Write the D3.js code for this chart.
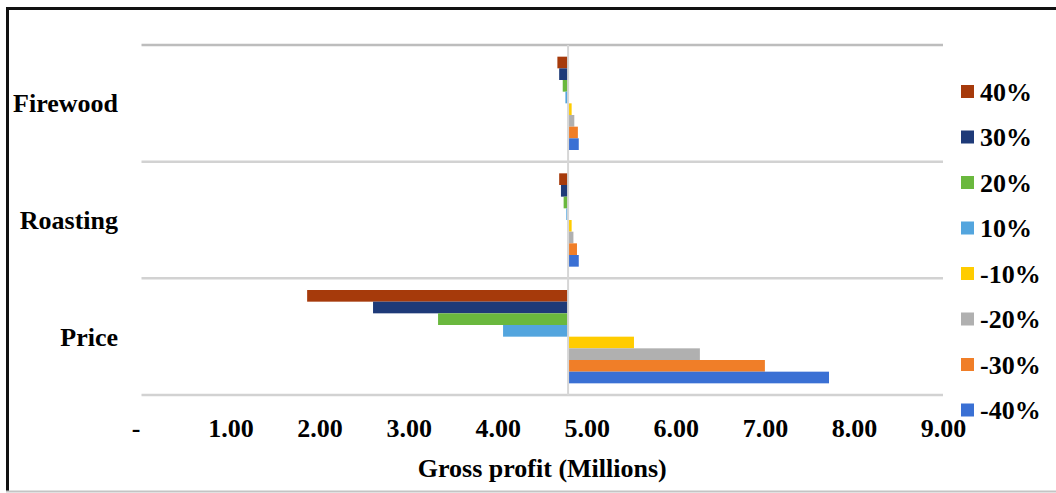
<!DOCTYPE html>
<html>
<head>
<meta charset="utf-8">
<script src="https://cdn.jsdelivr.net/npm/d3@7"></script>
<style>
  html, body { margin: 0; padding: 0; background: #fff; }
  svg text { font-family: "Liberation Serif", "Times New Roman", serif; font-weight: bold; fill: #000; }
</style>
</head>
<body>
<svg id="chart" width="1056" height="493"></svg>
<script>
// Sensitivity of gross profit (millions) to changes in each input
const categories = ["Firewood", "Roasting", "Price"];
const seriesNames = ["40%", "30%", "20%", "10%", "-10%", "-20%", "-30%", "-40%"];
const seriesColors = ["#a63a0b", "#1e3a78", "#6ab83e", "#53a5de", "#ffcc00", "#b0b0b0", "#f07e28", "#3a70d4"];
const baseProfit = 4.79;
const firewoodValues = [4.67, 4.69, 4.73, 4.76, 4.83, 4.86, 4.90, 4.91];
const roastingValues = [4.69, 4.71, 4.74, 4.77, 4.83, 4.85, 4.89, 4.91];
const priceValues = [1.86, 2.60, 3.33, 4.06, 5.53, 6.27, 7.00, 7.72];
const valuesByCategory = { "Firewood": firewoodValues, "Roasting": roastingValues, "Price": priceValues };
const tickValues = [0, 1, 2, 3, 4, 5, 6, 7, 8, 9];
const axisTitle = "Gross profit (Millions)";

const svg = d3.select("#chart");

// outer frame
svg.append("line").attr("x1", 6).attr("x2", 1056).attr("y1", 8.5).attr("y2", 8.5)
  .attr("stroke", "#111").attr("stroke-width", 3);
svg.append("line").attr("x1", 7.5).attr("x2", 7.5).attr("y1", 7).attr("y2", 491)
  .attr("stroke", "#111").attr("stroke-width", 3);
svg.append("line").attr("x1", 6).attr("x2", 1056).attr("y1", 491.5).attr("y2", 491.5)
  .attr("stroke", "#c4c4c4").attr("stroke-width", 2);

const x = d3.scaleLinear().domain([0, 9]).range([141.5, 943]);
const y0 = d3.scaleBand().domain(categories).range([45, 395]).padding(0);
const bw = y0.bandwidth();
const y1 = d3.scaleBand().domain(seriesNames).range([0.1 * bw, 0.9 * bw]).padding(0);
const color = d3.scaleOrdinal().domain(seriesNames).range(seriesColors);

// category separators
const bounds = categories.map(c => y0(c)).concat([y0(categories[categories.length - 1]) + bw]);
svg.append("g").selectAll("line").data(bounds).join("line")
  .attr("x1", x(0)).attr("x2", x(9))
  .attr("y1", d => d).attr("y2", d => d)
  .attr("stroke", (d, i) => i === 0 ? "#bdbdbd" : "#d2d2d2")
  .attr("stroke-width", 2.5);

// bars
const rows = [];
categories.forEach(c => {
  valuesByCategory[c].forEach((v, i) => rows.push({ cat: c, name: seriesNames[i], value: v }));
});
svg.append("g").selectAll("rect").data(rows).join("rect")
  .attr("x", d => Math.min(x(baseProfit), x(d.value)))
  .attr("width", d => Math.abs(x(d.value) - x(baseProfit)))
  .attr("y", d => y0(d.cat) + y1(d.name))
  .attr("height", y1.bandwidth())
  .attr("fill", d => color(d.name));

// vertical axis crossing at the base value
svg.append("line")
  .attr("x1", x(baseProfit)).attr("x2", x(baseProfit))
  .attr("y1", bounds[0]).attr("y2", bounds[bounds.length - 1])
  .attr("stroke", "#d6d6d6").attr("stroke-width", 2);

// value axis
const xAxis = d3.axisBottom(x)
  .tickValues(tickValues)
  .tickSize(0)
  .tickFormat(d => d === 0 ? "-" : d3.format(".2f")(d));
const gx = svg.append("g").attr("transform", "translate(0,395)").call(xAxis);
gx.select(".domain").remove();
gx.selectAll("text")
  .attr("y", 42).attr("dy", null)
  .attr("dx", d => d === 0 ? -6 : 0)
  .style("font-family", "'Liberation Serif', 'Times New Roman', serif")
  .style("font-weight", "bold")
  .style("font-size", "26px")
  .attr("fill", "#000");

svg.append("text")
  .attr("x", (x(0) + x(9)) / 2).attr("y", 477)
  .attr("text-anchor", "middle")
  .style("font-size", "26px")
  .text(axisTitle);

// category labels
svg.append("g").selectAll("text").data(categories).join("text")
  .attr("x", 118)
  .attr("y", d => y0(d) + bw / 2 + 9)
  .attr("text-anchor", "end")
  .style("font-size", "26px")
  .text(d => d);

// legend
const legend = svg.append("g").selectAll("g").data(seriesNames).join("g")
  .attr("transform", (d, i) => `translate(961,${91.5 + i * 45.5})`);
legend.append("rect")
  .attr("x", 0).attr("y", -6.5).attr("width", 13).attr("height", 13)
  .attr("fill", d => color(d));
legend.append("text")
  .attr("x", 19).attr("y", 9)
  .style("font-size", "26px")
  .text(d => d);
</script>
</body>
</html>
